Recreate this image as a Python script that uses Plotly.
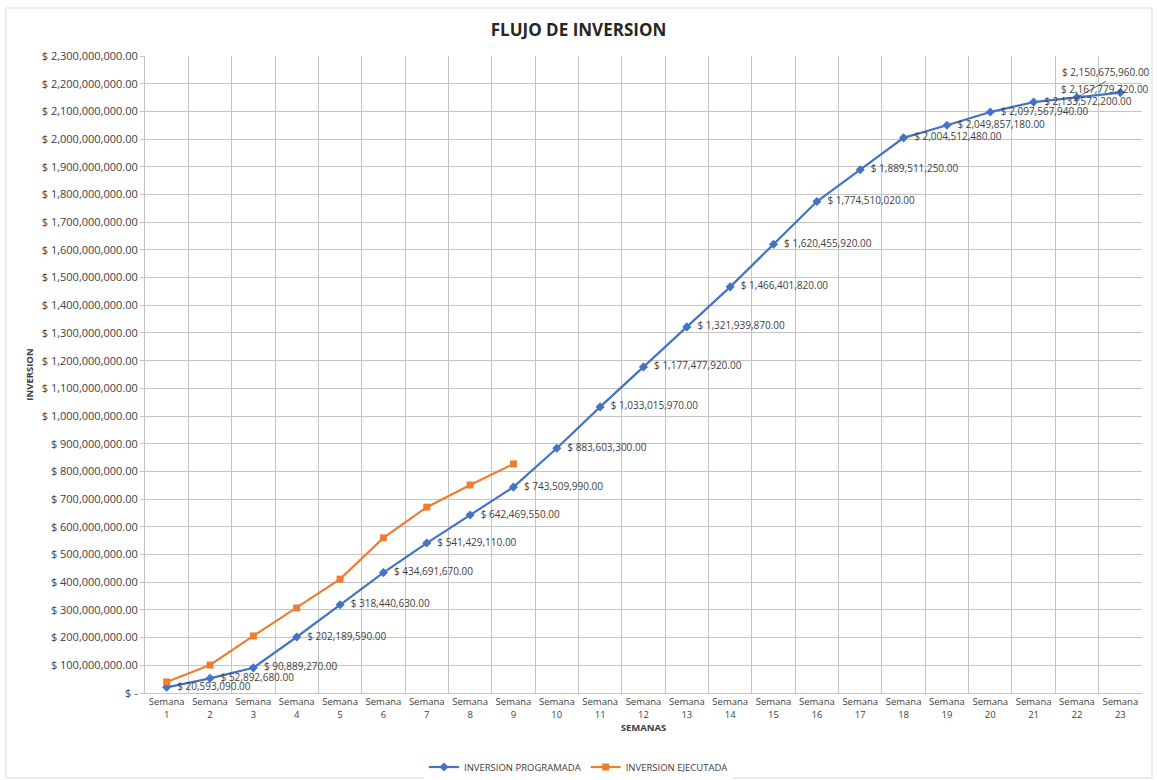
import plotly.graph_objects as go

semanas = [f"Semana<br>{i}" for i in range(1, 24)]
programada = [20593090, 52892680, 90889270, 202189590, 318440630, 434691670,
              541429110, 642469550, 743509990, 883603300, 1033015970, 1177477920,
              1321939870, 1466401820, 1620455920, 1774510020, 1889511250, 2004512480,
              2049857180, 2097567940, 2133572200, 2150675960, 2167779720]
ejecutada = [40000000, 101000000, 206000000, 307000000, 411000000, 560000000,
             671000000, 751000000, 827000000]

ytick_vals = [i * 100000000 for i in range(0, 24)]


def money(v):
    return "$ -" if v == 0 else f"$ {v:,.2f}"


ytick_text = [money(v) for v in ytick_vals]

W, H = 1157, 780
ml, mr, mt, mb = 145, 15, 56, 87
pw, ph = W - ml - mr, H - mt - mb

fig = go.Figure()
blue = "#4472C4"
orange = "#ED7D31"
FONT = "Open Sans, Liberation Sans, sans-serif"
lblfont = dict(family=FONT, size=10, color="#404040")

texts = [money(v) for v in programada]
texts_main = ["\u00a0\u00a0" + t for t in texts[:21]] + ["", ""]

fig.add_trace(go.Scatter(
    x=semanas, y=programada, mode="lines+markers+text", name="INVERSION PROGRAMADA",
    line=dict(color=blue, width=2.2), marker=dict(symbol="diamond", size=7, color=blue),
    text=texts_main, textposition="middle right", textfont=lblfont, cliponaxis=False,
))
fig.add_trace(go.Scatter(
    x=semanas[:len(ejecutada)], y=ejecutada, mode="lines+markers", name="INVERSION EJECUTADA",
    line=dict(color=orange, width=2.2), marker=dict(symbol="square", size=7, color=orange),
))

# labels for the last two points (placed like the reference)
fig.add_annotation(x=semanas[21], y=programada[21], text=texts[21], showarrow=True,
                   arrowhead=0, arrowwidth=0.8, arrowcolor="#404040", ax=29, ay=-16,
                   font=lblfont, xanchor="center", yanchor="bottom")
fig.add_annotation(x=semanas[22], y=programada[22], text=texts[22], showarrow=False,
                   xshift=-15, yshift=4, font=lblfont)

# chart border
fig.add_shape(type="rect", xref="paper", yref="paper",
              x0=(6 - ml) / pw, x1=(1152 - ml) / pw,
              y0=(H - mb - 778) / ph, y1=(H - mb - 8) / ph,
              line=dict(color="#d9d9d9", width=1), fillcolor="rgba(0,0,0,0)", layer="below")

fig.update_layout(
    width=W, height=H,
    margin=dict(l=ml, r=mr, t=mt, b=mb, autoexpand=False),
    paper_bgcolor="white", plot_bgcolor="white",
    font=dict(family=FONT, size=10, color="#404040"),
    title=dict(text="<b>FLUJO DE INVERSION</b>", x=0.5, xref="container", y=(H - 30) / H,
               yref="container", yanchor="middle", font=dict(size=17, color="#262626")),
    showlegend=True,
    legend=dict(orientation="h", xref="container", x=0.5, xanchor="center",
                yref="container", y=(H - 767) / H, yanchor="middle",
                font=dict(size=9.5, color="#404040")),
)
fig.update_xaxes(
    type="category", range=[-0.5, 22.5], tickson="boundaries", tickangle=0,
    showgrid=True, gridcolor="#c4c4c4", gridwidth=1, automargin=False,
    showline=True, linecolor="#c4c4c4", ticks="", tickfont=dict(size=9.5),
    title=dict(text="<b>SEMANAS</b>", font=dict(size=9.5), standoff=4),
)
fig.update_yaxes(
    range=[0, 2300000000], tickvals=ytick_vals, ticktext=ytick_text,
    showgrid=True, gridcolor="#c4c4c4", gridwidth=1, automargin=False,
    showline=True, linecolor="#c4c4c4", ticks="outside", ticklen=4, tickcolor="#c4c4c4",
    tickfont=dict(size=11), zeroline=False,
    title=dict(text="<b>INVERSION</b>", font=dict(size=9.5), standoff=6),
)

fig.write_html("out.html", config={"displayModeBar": False},
               post_script="document.body.style.margin='0';document.body.style.overflow='hidden';")
